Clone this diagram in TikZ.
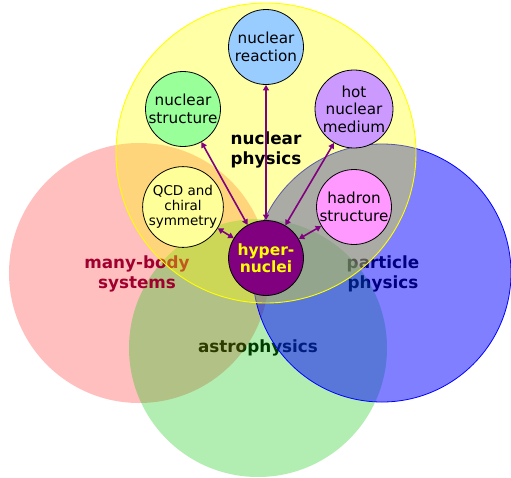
\documentclass[tikz,border=0pt]{standalone}
\usepackage{fontspec}
\setmainfont{DejaVu Sans}
\usetikzlibrary{arrows.meta, positioning}
\definecolor{HyperPurple}{HTML}{800080}
\definecolor{ReactionBlue}{HTML}{99CCFF}
\definecolor{StructGreen}{HTML}{99FF99}
\definecolor{HotLilac}{HTML}{CC99FF}
\definecolor{ChiralYellow}{HTML}{FFFF99}
\definecolor{HadronPink}{HTML}{FF99FF}
\definecolor{ManyBodyRed}{HTML}{A0002E}
\definecolor{AstroGreen}{HTML}{00C800}
\definecolor{NuclYellow}{HTML}{FFFF00}

\tikzset{
  topic/.style={circle, draw=black, line width=0.8pt, minimum size=75pt,
                inner sep=0pt, align=center, font=\fontsize{15.2}{17.5}\selectfont},
  field/.style={align=center, font=\fontsize{16.8}{19.5}\selectfont\bfseries},
  link/.style={HyperPurple, line width=1.6pt,
               {Triangle[length=5.5pt,width=6pt]}-{Triangle[length=5.5pt,width=6pt]}}
}

\begin{document}
\begin{tikzpicture}[x=1pt, y=-1pt]
  \useasboundingbox (0,0) rectangle (511,477);

  % labels that sit under the tinted circles
  \node[field] (astro) at (258,348) {astrophysics};
  \node[field] (particle) at (383,274) {particle\\physics};

  % the four big fields
  \fill[red, fill opacity=0.25] (139,273) circle[radius=130pt];
  \fill[AstroGreen, fill opacity=0.3] (258,348) circle[radius=129pt];
  \node[field, text=ManyBodyRed] (manybody) at (137,274) {many-body\\systems};
  \filldraw[fill=blue, fill opacity=0.5, draw=blue, line width=0.8pt] (382,273) circle[radius=129pt];
  \filldraw[fill=NuclYellow, fill opacity=0.35, draw=NuclYellow, line width=0.9pt] (266,153) circle[radius=150pt];

  \node[field] (nuclphys) at (266,150) {nuclear\\physics};

  % topics around hypernuclei
  \node[topic, fill=HyperPurple, text=NuclYellow, font=\fontsize{15.5}{17}\selectfont\bfseries]
    (hyper) at (266,258) {hyper-\\nuclei};
  \node[topic, fill=ReactionBlue] (reaction) at (266,47) {nuclear\\reaction};
  \node[topic, fill=StructGreen] (structure) at (183,109) {nuclear\\structure};
  \node[topic, fill=HotLilac] (medium) at (354,109) {hot\\nuclear\\medium};
  \node[topic, fill=ChiralYellow, font=\fontsize{13.5}{15}\selectfont] (chiral) at (183,207) {QCD and\\chiral\\symmetry};
  \node[topic, fill=HadronPink] (hadron) at (354,207) {hadron\\structure};

  \draw[link] (hyper) -- (reaction);
  \draw[link] (hyper) -- (structure);
  \draw[link] (hyper) -- (medium);
  \draw[link] (hyper) -- (chiral);
  \draw[link] (hyper) -- (hadron);
\end{tikzpicture}
\end{document}
